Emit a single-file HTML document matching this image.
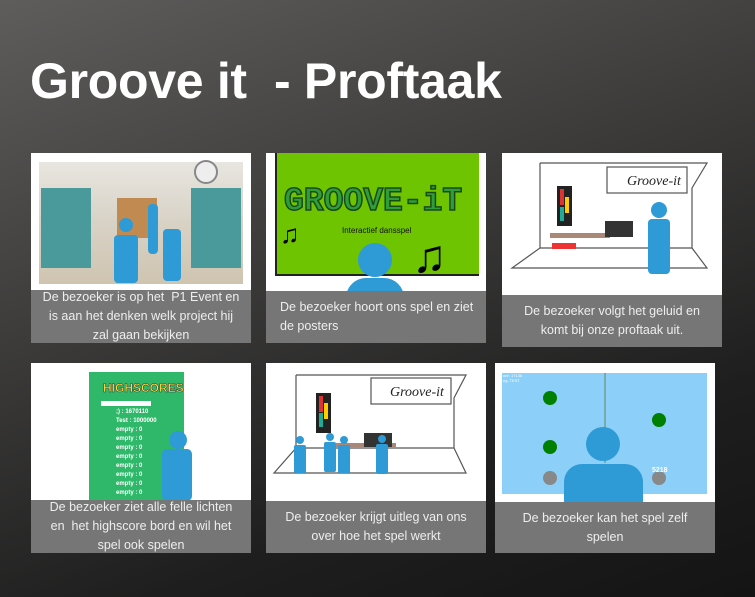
<!DOCTYPE html>
<html><head><meta charset="utf-8"><style>
*{margin:0;padding:0;box-sizing:border-box}
body{width:755px;height:597px;overflow:hidden;position:relative;font-family:"Liberation Sans",sans-serif;
background:linear-gradient(160deg,#5e5d5c 0%,#3c3b3a 40%,#1e1e1e 75%,#141414 100%)}
.a{position:absolute}
h1{position:absolute;left:30px;top:52px;font-size:50px;font-weight:bold;color:#fff;letter-spacing:-0.3px;white-space:nowrap}
.p{position:absolute;background:#fff;width:220px;height:190px;overflow:hidden}
.c{position:absolute;left:0;right:0;bottom:0;background:#767676;color:#eee;font-size:12.5px;line-height:19px;text-align:center;display:flex;align-items:center;justify-content:center;padding:0 8px}
.bl{background:#2e9ad6}
</style></head><body>
<h1>Groove it &nbsp;- Proftaak</h1>

<!-- panel 1 -->
<div class="p" style="left:31px;top:153px">
 <div class="a" style="left:8px;top:9px;width:204px;height:122px;background:linear-gradient(#e8e6e0,#d8d2c6 50%,#cfc4b0)"></div>
 <div class="a" style="left:10px;top:35px;width:50px;height:80px;background:#4a9a9c"></div>
 <div class="a" style="left:160px;top:35px;width:50px;height:80px;background:#4a9a9c"></div>
 <div class="a" style="left:86px;top:45px;width:40px;height:40px;background:#c08a50"></div>
 <div class="a" style="left:163px;top:7px;width:24px;height:24px;border-radius:50%;background:#eee;border:2px solid #888"></div>
 <div class="a bl" style="left:88px;top:65px;width:14px;height:14px;border-radius:50%"></div>
 <div class="a bl" style="left:83px;top:82px;width:24px;height:48px;border-radius:4px"></div>
 <div class="a bl" style="left:117px;top:51px;width:10px;height:50px;border-radius:4px"></div>
 <div class="a bl" style="left:132px;top:76px;width:18px;height:52px;border-radius:4px"></div>
 <div class="c" style="height:53px;padding:0 10px">De bezoeker is op het &nbsp;P1 Event en<br>is aan het denken welk project hij<br>zal gaan bekijken</div>
</div>

<!-- panel 2 -->
<div class="p" style="left:266px;top:153px">
 <div class="a" style="left:9px;top:0;width:204px;height:123px;background:#6fc400;border-left:2px solid #222;border-bottom:2px solid #222"></div>
 <div class="a" style="left:18px;top:30px;font-size:33px;font-weight:bold;color:#2f9e3a;white-space:nowrap;font-family:'Liberation Mono',monospace;-webkit-text-stroke:1.5px #1a4a1a">GROOVE-iT</div>
 <div class="a" style="left:76px;top:73px;font-size:8px;color:#111">Interactief dansspel</div>
 <div class="a" style="left:14px;top:66px;font-size:26px;color:#000">♫</div>
 <div class="a" style="left:146px;top:76px;font-size:46px;color:#000">♫</div>
 <div class="a bl" style="left:92px;top:90px;width:34px;height:34px;border-radius:50%"></div>
 <div class="a bl" style="left:80px;top:125px;width:58px;height:20px;border-radius:30px 30px 0 0"></div>
 <div class="c" style="height:52px;justify-content:flex-start;text-align:left;padding-left:14px">De bezoeker hoort ons spel en ziet de posters</div>
</div>

<!-- panel 3 -->
<div class="p" style="left:502px;top:153px;height:194px">
 <svg class="a" style="left:0;top:0" width="220" height="140"><g fill="none" stroke="#555" stroke-width="1.2">
 <polyline points="38,10 205,10 190,35 190,95 205,115 10,115 38,95 38,10"/><line x1="38" y1="95" x2="190" y2="95"/>
 <rect x="105" y="14" width="80" height="26"/></g>
 <text x="125" y="32" font-family="Liberation Serif" font-style="italic" font-size="14" fill="#222">Groove-it</text>
 <rect x="55" y="33" width="15" height="40" fill="#222"/><rect x="58" y="36" width="4" height="16" fill="#d33"/><rect x="63" y="44" width="4" height="16" fill="#fc0"/><rect x="58" y="54" width="4" height="14" fill="#2a9"/>
 <rect x="48" y="80" width="60" height="5" fill="#a87"/><rect x="103" y="68" width="28" height="16" fill="#333"/>
 <rect x="50" y="90" width="24" height="6" fill="#e33"/>
 <circle cx="157" cy="57" r="8" fill="#2e9ad6"/><rect x="146" y="66" width="22" height="55" rx="4" fill="#2e9ad6"/></svg>
 <div class="c" style="height:52px">De bezoeker volgt het geluid en komt bij onze proftaak uit.</div>
</div>

<!-- panel 4 -->
<div class="p" style="left:31px;top:363px">
 <div class="a" style="left:58px;top:9px;width:95px;height:130px;background:#2fb86a"></div>
 <div class="a" style="left:72px;top:18px;font-size:12px;font-weight:bold;color:#ffde40;-webkit-text-stroke:0.5px #333">HIGHSCORES</div>
 <div class="a" style="left:70px;top:38px;width:50px;height:5px;background:#fff"></div>
 <div class="a" style="left:85px;top:45px;font-size:6px;line-height:9px;color:#fff;font-weight:bold">;) : 1670110<br>Test : 1000000<br>empty : 0<br>empty : 0<br>empty : 0<br>empty : 0<br>empty : 0<br>empty : 0<br>empty : 0<br>empty : 0</div>
 <div class="a bl" style="left:138px;top:68px;width:18px;height:18px;border-radius:50%"></div>
 <div class="a bl" style="left:131px;top:86px;width:30px;height:52px;border-radius:5px"></div>
 <div class="c" style="height:53px;padding:0 6px">De bezoeker ziet alle felle lichten<br>en &nbsp;het highscore bord en wil het<br>spel ook spelen</div>
</div>

<!-- panel 5 -->
<div class="p" style="left:266px;top:363px">
 <svg class="a" style="left:0;top:0" width="220" height="140"><g fill="none" stroke="#555" stroke-width="1.2">
 <polyline points="30,12 200,12 188,35 188,85 200,110 8,110 30,85 30,12"/><line x1="30" y1="85" x2="188" y2="85"/>
 <rect x="105" y="15" width="80" height="26"/></g>
 <text x="124" y="33" font-family="Liberation Serif" font-style="italic" font-size="14" fill="#222">Groove-it</text>
 <rect x="50" y="30" width="15" height="40" fill="#222"/><rect x="53" y="33" width="4" height="16" fill="#d33"/><rect x="58" y="40" width="4" height="16" fill="#fc0"/><rect x="53" y="50" width="4" height="14" fill="#2a9"/>
 <rect x="70" y="80" width="60" height="4" fill="#a87"/><rect x="98" y="70" width="28" height="14" fill="#333"/>
 <g fill="#2e9ad6"><circle cx="34" cy="77" r="4"/><rect x="28" y="82" width="12" height="28" rx="2"/>
 <circle cx="64" cy="74" r="4"/><rect x="58" y="79" width="12" height="30" rx="2"/>
 <circle cx="78" cy="77" r="4"/><rect x="72" y="82" width="12" height="28" rx="2"/>
 <circle cx="116" cy="76" r="4"/><rect x="110" y="81" width="12" height="30" rx="2"/></g></svg>
 <div class="c" style="height:52px">De bezoeker krijgt uitleg van ons over hoe het spel werkt</div>
</div>

<!-- panel 6 -->
<div class="p" style="left:495px;top:363px">
 <div class="a" style="left:7px;top:10px;width:205px;height:121px;background:#8ccff8"></div>
 <div class="a" style="left:109px;top:10px;width:2px;height:90px;background:#7aa"></div>
 <div class="a" style="left:8px;top:10px;font-size:4px;color:#fff">ore: 17136<br>ng: TEST</div>
 <div class="a" style="left:48px;top:28px;width:14px;height:14px;border-radius:50%;background:#008000"></div>
 <div class="a" style="left:48px;top:77px;width:14px;height:14px;border-radius:50%;background:#008000"></div>
 <div class="a" style="left:157px;top:50px;width:14px;height:14px;border-radius:50%;background:#008000"></div>
 <div class="a" style="left:48px;top:108px;width:14px;height:14px;border-radius:50%;background:#888"></div>
 <div class="a" style="left:157px;top:108px;width:14px;height:14px;border-radius:50%;background:#888"></div>
 <div class="a" style="left:157px;top:104px;font-size:7px;color:#fff;font-weight:bold">5218</div>
 <div class="a bl" style="left:91px;top:64px;width:34px;height:34px;border-radius:50%"></div>
 <div class="a bl" style="left:69px;top:101px;width:79px;height:42px;border-radius:18px 18px 0 0"></div>
 <div class="c" style="height:51px">De bezoeker kan het spel zelf spelen</div>
</div>
</body></html>
